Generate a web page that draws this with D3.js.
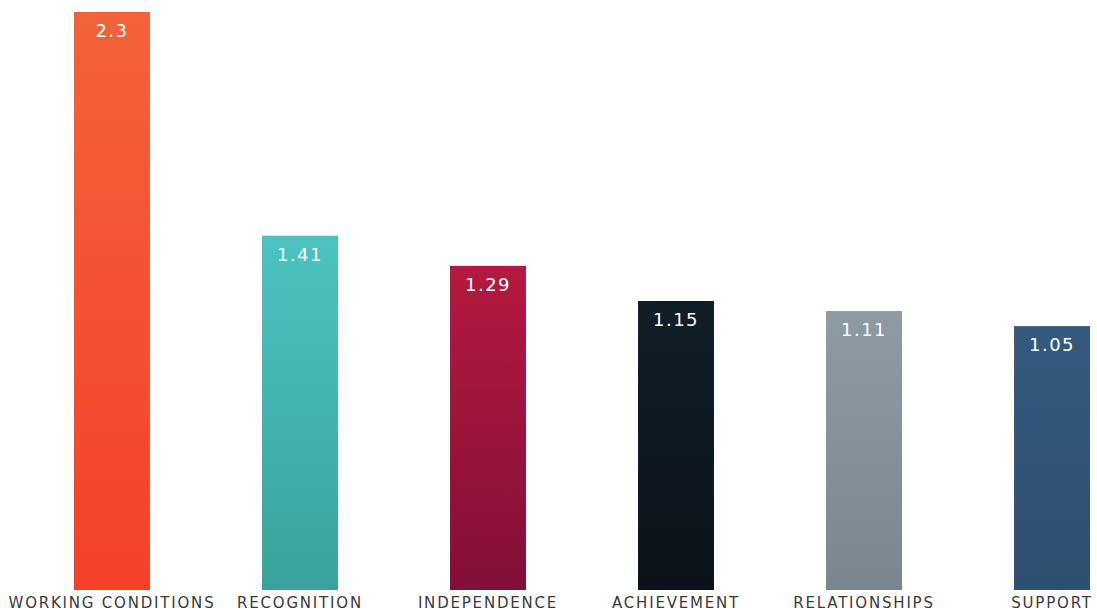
<!DOCTYPE html>
<html><head><meta charset="utf-8">
<script src="https://cdn.jsdelivr.net/npm/d3@7"></script>
<style>html,body{margin:0;padding:0;background:#fff;overflow:hidden}</style>
</head><body>
<svg id="chart" width="1097" height="612"></svg>
<script>
const categories = ["WORKING CONDITIONS","RECOGNITION","INDEPENDENCE","ACHIEVEMENT","RELATIONSHIPS","SUPPORT"];
const values = [2.3, 1.41, 1.29, 1.15, 1.11, 1.05];
const valueLabels = ["2.3","1.41","1.29","1.15","1.11","1.05"];
const topColors = ["#f3623a","#4cc3c1","#b5193f","#111e28","#8f9ba3","#355a7f"];
const bottomColors = ["#f5402a","#37a39b","#820f38","#0b1219","#7a868f","#2d4f70"];

const svg = d3.select("#chart");
const x = d3.scaleBand().domain(categories).range([74, 1090]).paddingInner(0.596).paddingOuter(0);
const y = d3.scaleLinear().domain([0, 2.3]).range([590, 12]);

const defs = svg.append("defs");
categories.forEach((c, i) => {
  const g = defs.append("linearGradient").attr("id", "g" + i)
    .attr("x1", 0).attr("y1", 0).attr("x2", 0).attr("y2", 1);
  g.append("stop").attr("offset", "0%").attr("stop-color", topColors[i]);
  g.append("stop").attr("offset", "100%").attr("stop-color", bottomColors[i]);
});

const data = categories.map((c, i) => ({c, v: values[i], l: valueLabels[i], i}));

svg.selectAll("rect.bar").data(data).join("rect").attr("class", "bar")
  .attr("x", d => x(d.c)).attr("width", x.bandwidth())
  .attr("y", d => y(d.v)).attr("height", d => y(0) - y(d.v))
  .attr("fill", d => `url(#g${d.i})`);

svg.selectAll("text.val").data(data).join("text").attr("class", "val")
  .attr("x", d => x(d.c) + x.bandwidth() / 2)
  .attr("y", d => y(d.v) + 25)
  .attr("text-anchor", "middle")
  .attr("fill", "#ffffff")
  .style("font-family", "'DejaVu Sans', sans-serif")
  .style("font-size", "18px")
  .style("letter-spacing", "1.5px")
  .text(d => d.l);

const axis = d3.axisBottom(x).tickSize(0).tickPadding(0);
const gx = svg.append("g").attr("transform", "translate(0,590)").call(axis);
gx.select(".domain").remove();
gx.selectAll("text")
  .attr("dy", "0")
  .attr("y", 18)
  .attr("fill", "#3a3a3d")
  .style("font-family", "'DejaVu Sans', sans-serif")
  .style("font-size", "15px")
  .style("letter-spacing", "1.8px");
</script>
</body></html>
